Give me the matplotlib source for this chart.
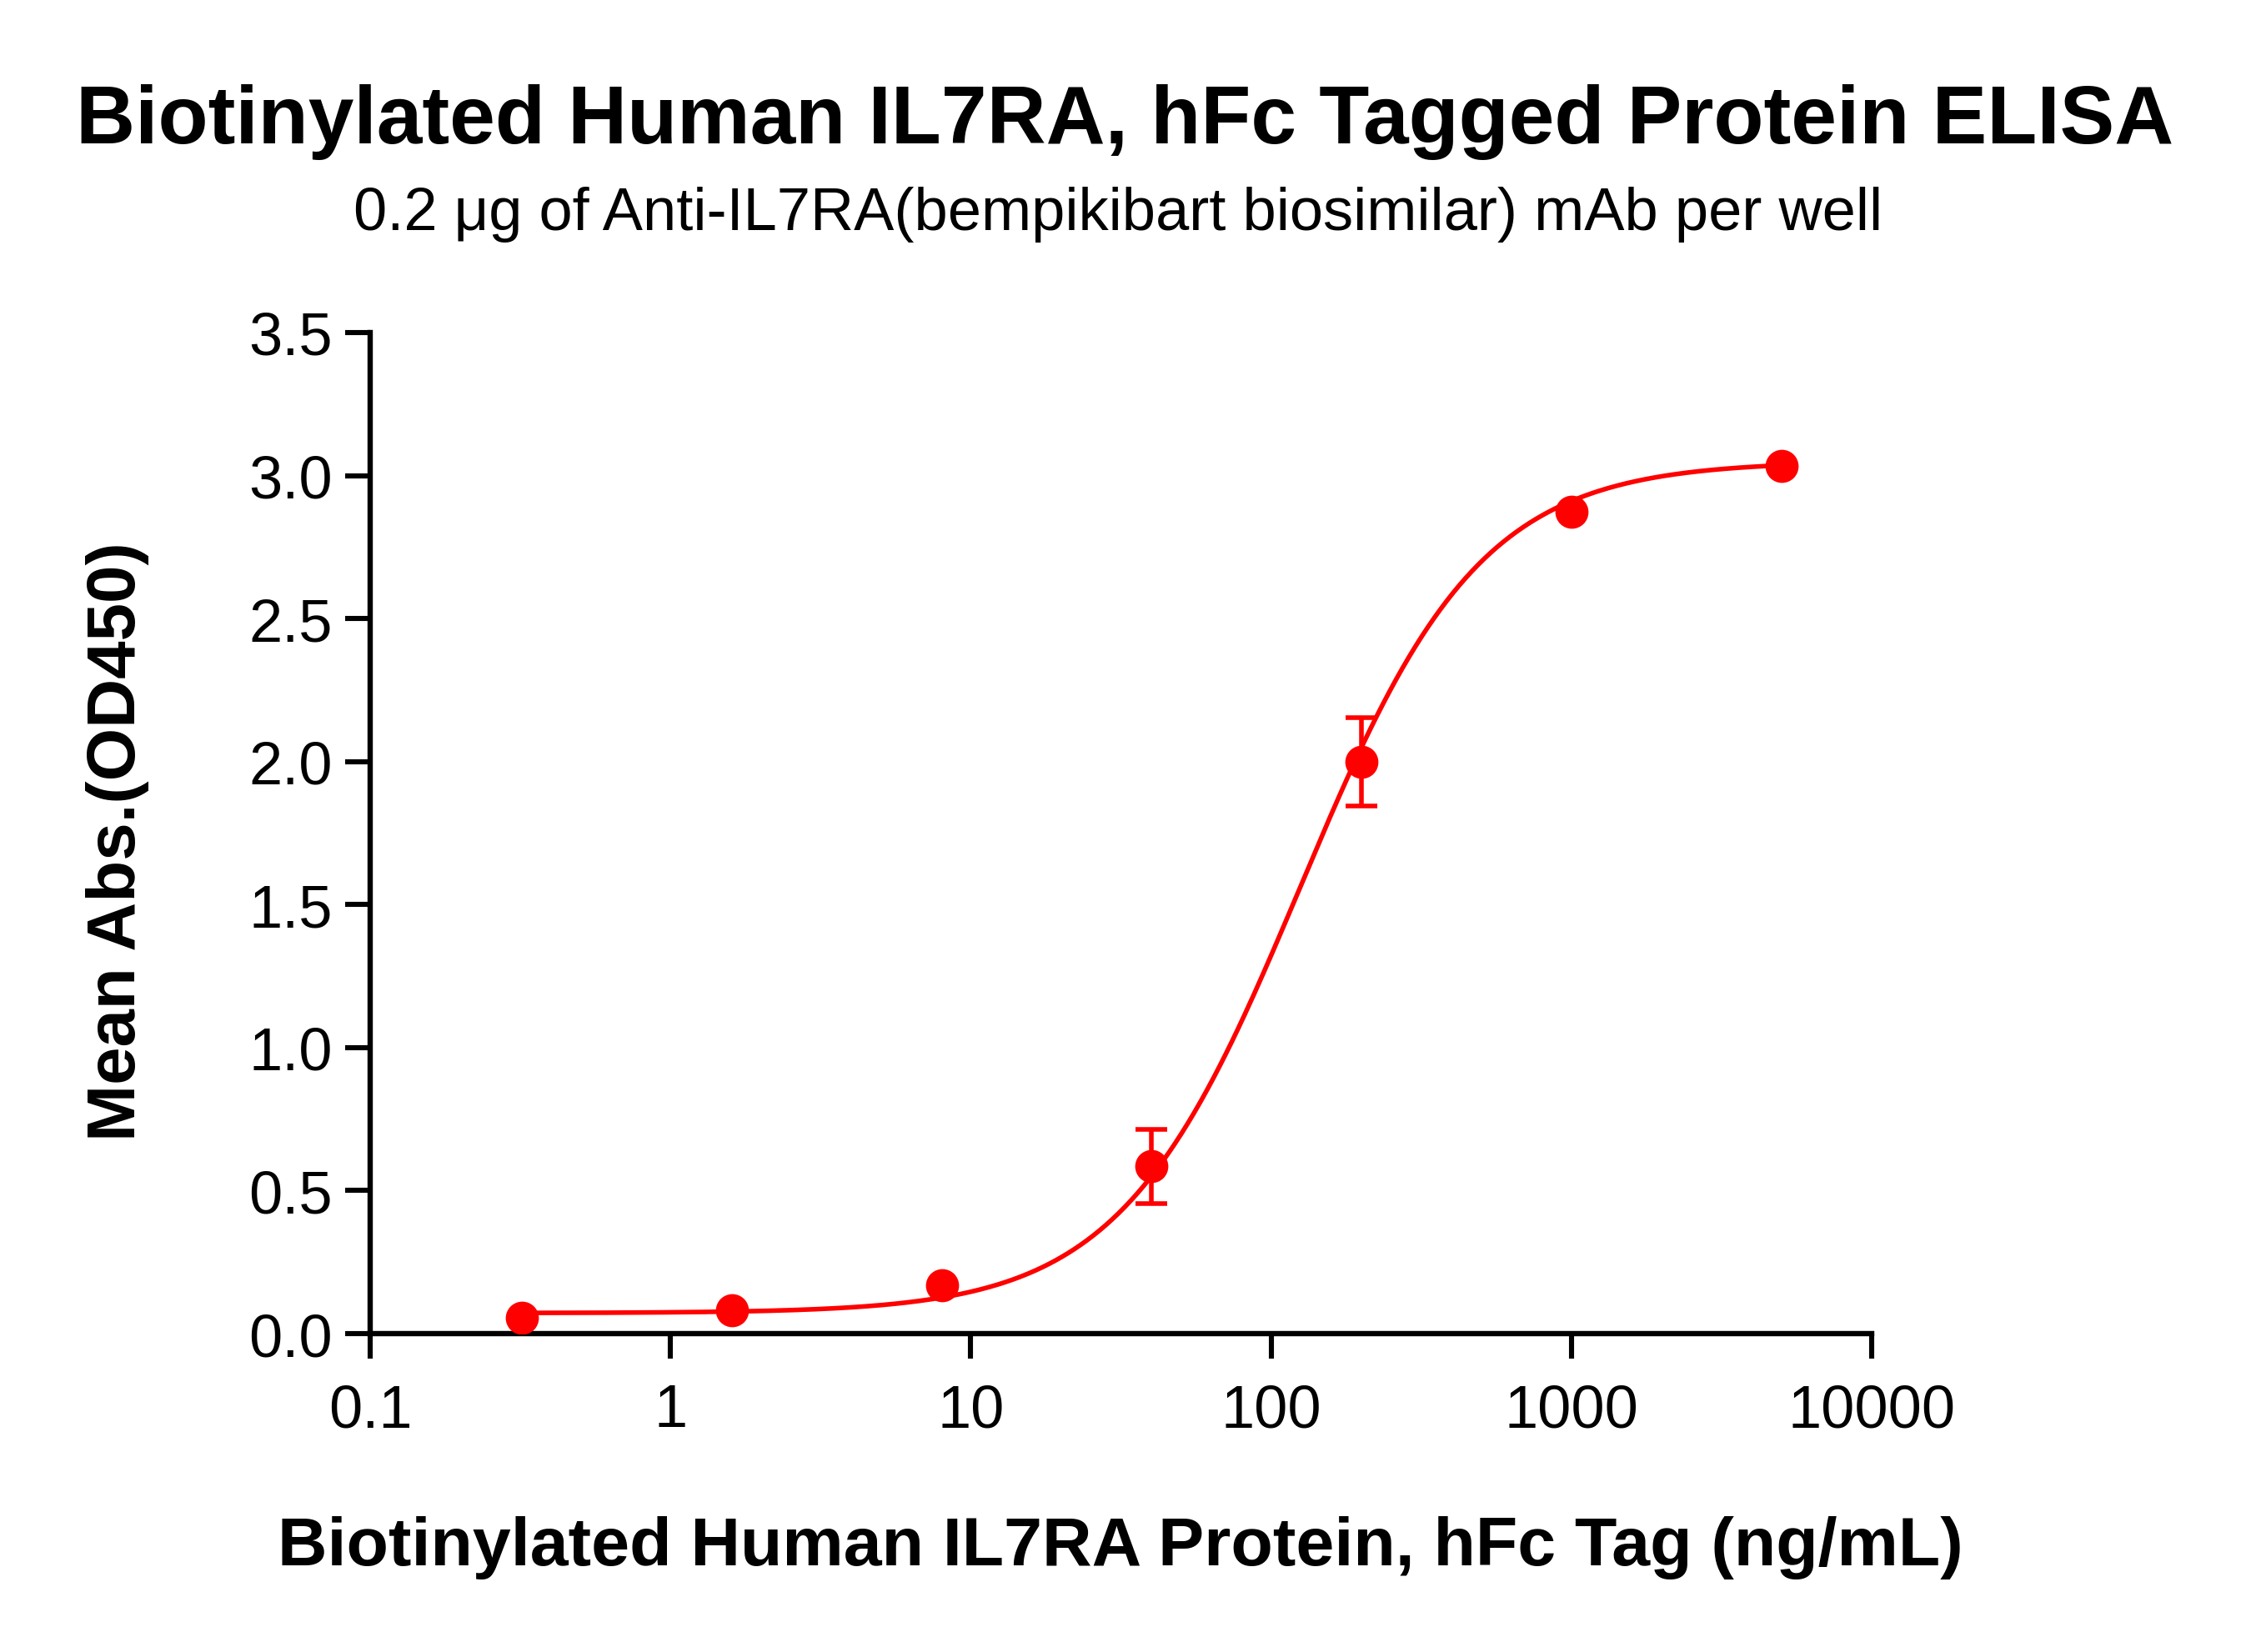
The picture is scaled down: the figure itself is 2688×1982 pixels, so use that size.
import numpy as np
import matplotlib
matplotlib.use("Agg")
import matplotlib.pyplot as plt

plt.rcParams['font.family'] = ['Liberation Sans', 'DejaVu Sans']

# concentration (ng/mL) and mean OD450
conc = [0.32, 1.6, 8, 40, 200, 1000, 5000]
od450 = [0.055, 0.081, 0.168, 0.585, 2.0, 2.873, 3.033]
od_err = [0.0, 0.0, 0.0, 0.13, 0.155, 0.0, 0.0]

# 4PL fit parameters
bottom, top, ec50, hill = 0.072, 3.05, 125.0, 1.45

red = '#ff0000'

fig = plt.figure(figsize=(13.44, 9.915), dpi=200)
ax = fig.add_axes([0.1652, 0.1926, 0.8352 - 0.1652, 0.7983 - 0.1926])

xs = np.logspace(np.log10(conc[0]), np.log10(conc[-1]), 400)
fit = bottom + (top - bottom) / (1 + (ec50 / xs) ** hill)
ax.plot(xs, fit, color=red, lw=2.0, zorder=2)

ax.errorbar(conc, od450, yerr=od_err, fmt='o', color=red, ms=13.3,
            elinewidth=2.0, capsize=6.7, capthick=2.0, zorder=3)

ax.set_xscale('log')
ax.set_xlim(0.1, 10000)
ax.set_ylim(0, 3.5)
ax.set_xticks([0.1, 1, 10, 100, 1000, 10000])
ax.set_xticklabels(['0.1', '1', '10', '100', '1000', '10000'])
ax.xaxis.set_minor_locator(matplotlib.ticker.NullLocator())
ax.set_yticks(np.arange(0, 3.51, 0.5))
ax.set_yticklabels([f'{v:.1f}' for v in np.arange(0, 3.51, 0.5)])

for s in ['top', 'right']:
    ax.spines[s].set_visible(False)
for s in ['left', 'bottom']:
    ax.spines[s].set_linewidth(2.3)
ax.tick_params(axis='both', which='major', length=10.8, width=2.2,
               labelsize=26, color='black')
ax.tick_params(axis='x', pad=10.5)
ax.tick_params(axis='y', pad=5.5)

fig.text(0.502, 0.926, 'Biotinylated Human IL7RA, hFc Tagged Protein ELISA',
         ha='center', va='center', fontsize=35.4, fontweight='bold')
fig.text(0.499, 0.870, '0.2 μg of Anti-IL7RA(bempikibart biosimilar) mAb per well',
         ha='center', va='center', fontsize=26)
fig.text(0.5, 0.0635, 'Biotinylated Human IL7RA Protein, hFc Tag (ng/mL)',
         ha='center', va='center', fontsize=29.7, fontweight='bold')
fig.text(0.0525, 0.491, 'Mean Abs.(OD450)', rotation=90,
         ha='center', va='center', fontsize=29.4, fontweight='bold')

fig.savefig('out.png', dpi=200)
